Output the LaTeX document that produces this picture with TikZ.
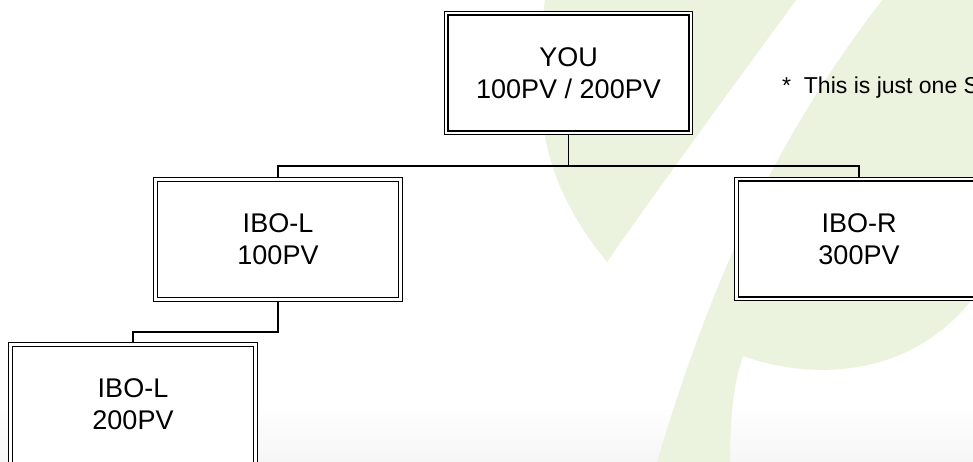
\documentclass[tikz,border=0pt]{standalone}
\usepackage{fontspec}
\setmainfont{Liberation Sans}
\pgfdeclarelayer{bg}
\pgfdeclarelayer{wires}
\pgfsetlayers{bg,wires,main}
\definecolor{leaf}{RGB}{235,243,222}
\definecolor{floor}{RGB}{246,246,246}
\tikzset{
  orgbox/.style={draw=black, fill=white, double=white, line width=1.3pt,
    double distance=2.5pt, minimum width=244.8pt, minimum height=119.8pt,
    inner sep=0pt, outer sep=0pt, align=center,
    font=\fontsize{27}{32}\selectfont},
  wire/.style={draw=black, line width=1.2pt},
  notetext/.style={anchor=base west, inner sep=0pt, font=\fontsize{23}{28}\selectfont}
}
\begin{document}
\begin{tikzpicture}[x=1pt,y=-1pt]
\useasboundingbox (0,0) rectangle (973,461);
\begin{pgfonlayer}{bg}
  \shade[top color=white, bottom color=floor] (0,405) rectangle (973,462);
  \fill[leaf] (545,-1) .. controls (532,110) and (540,180) .. (607,262)
     .. controls (650,200) and (730,90) .. (797,-1) -- cycle;
  \fill[leaf] (883,-1) .. controls (790,120) and (720,250) .. (657,462)
     -- (730,462) .. controls (730,420) and (733,385) .. (743,356)
     .. controls (810,380) and (910,380) .. (974,297) -- (974,-1) -- cycle;
\end{pgfonlayer}
\node[orgbox] (you) at (568.5,73) {YOU\\100PV / 200PV};
\node[orgbox] (ibol) at (278,239.5) {IBO-L\\100PV};
\node[orgbox] (ibor) at (859,239) {IBO-R\\300PV};
\node[orgbox] (ibol2) at (133,404.5) {IBO-L\\200PV};
\node[notetext] (note) at (782,93) {*~~This is just one S};
\begin{pgfonlayer}{wires}
  \coordinate (bar) at (568.5,166);
  \coordinate (bar2) at (278,332);
  \draw[wire] (you.south) -- (bar);
  \draw[wire] (ibol.north) |- (bar) -| (ibor.north);
  \draw[wire] (ibol.south) -- (bar2) -| (ibol2.north);
\end{pgfonlayer}
\end{tikzpicture}
\end{document}
